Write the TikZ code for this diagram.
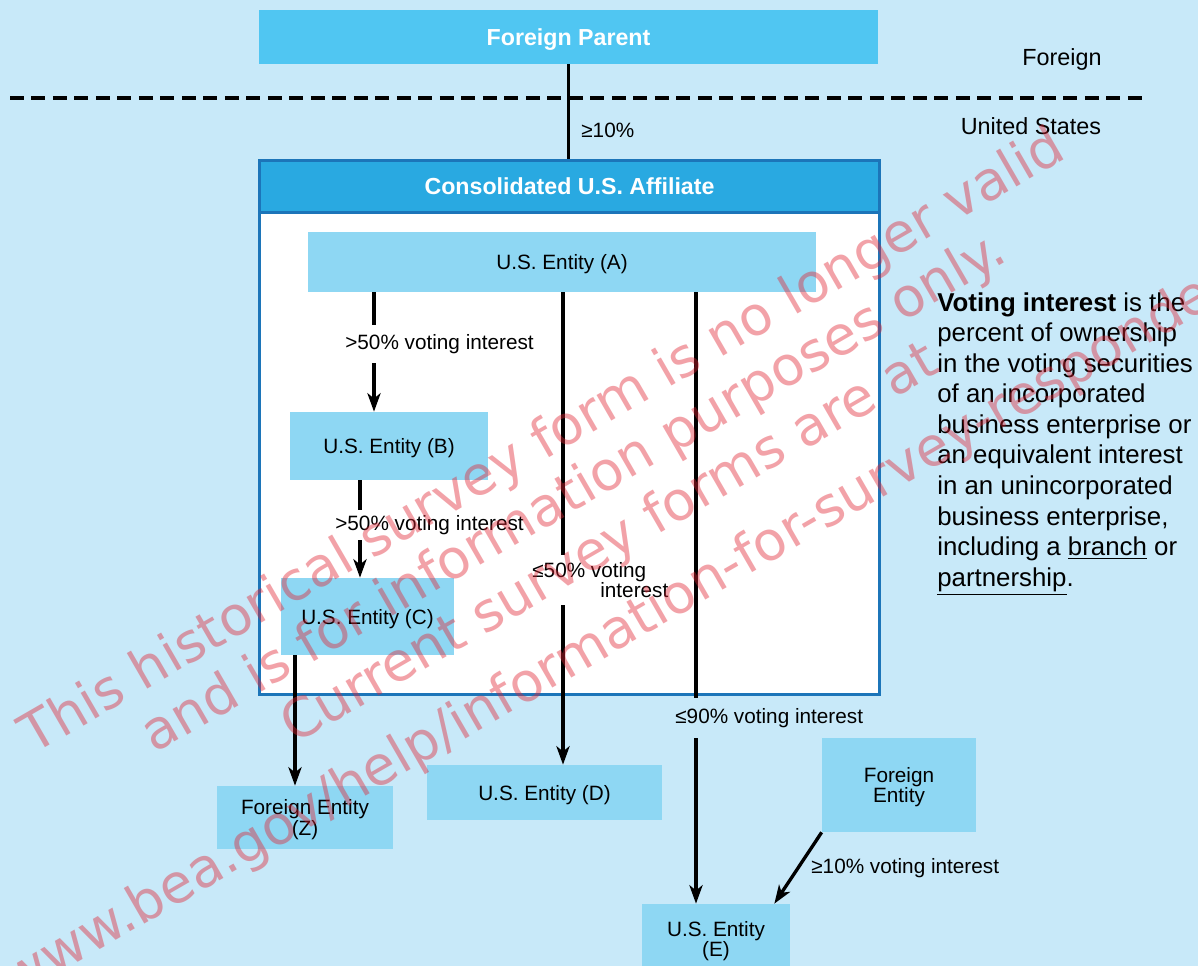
\documentclass[tikz,border=0pt]{standalone}
\usepackage{fontspec}
\setmainfont{Liberation Sans}
\newfontfamily\wmfont{DejaVu Sans}
\usetikzlibrary{arrows.meta}
\usepackage{xcolor}

\definecolor{bgblue}{RGB}{200,233,249}
\definecolor{parentblue}{RGB}{80,198,242}
\definecolor{headblue}{RGB}{41,169,225}
\definecolor{entblue}{RGB}{142,215,243}
\definecolor{frameblue}{RGB}{28,117,185}
\definecolor{wmred}{RGB}{225,35,50}

\tikzset{
 entity/.style={fill=entblue, align=center, inner sep=0pt, text depth=0pt, font=\fontsize{11.8}{11.5}\selectfont},
 heading/.style={text=white, inner sep=0pt, text depth=0pt, font=\bfseries\fontsize{13.2}{15}\selectfont},
 lbl/.style={inner sep=0pt, align=left, font=\fontsize{11.8}{11.5}\selectfont},
 conn/.style={black, line width=1.9pt, -{Stealth[length=10.5pt,width=7.5pt,inset=3pt]}},
 wm/.style={text=wmred, opacity=0.42, rotate=30, anchor=base, font=\wmfont\fontsize{30.7}{36}\selectfont},
}

\begin{document}
\begin{tikzpicture}[x=0.02cm, y=-0.02cm]
\fill[bgblue] (0,0) rectangle (1198,966);
\useasboundingbox (0,0) rectangle (1198,966);

\node[heading, fill=parentblue, minimum width=12.38cm, minimum height=1.08cm] (parent) at (568.5,37) {Foreign Parent};
\draw[black, line width=2.7pt, dash pattern=on 0.28cm off 0.15cm] (10,98) -- (1145,98);
\node[font=\fontsize{13.3}{15}\selectfont] (frgn) at (1062,59) {Foreign};
\node[font=\fontsize{13.3}{15}\selectfont] (usa) at (1031,126) {United States};

\node[draw=frameblue, line width=1.7pt, fill=white, minimum width=12.42cm, minimum height=10.7cm, inner sep=0pt] (affil) at (569.5,427.5) {};
\node[heading, fill=headblue, draw=frameblue, line width=1.7pt, minimum width=12.42cm, minimum height=1.04cm, anchor=north] (head) at (affil.north) {Consolidated U.S. Affiliate};
\draw[black, line width=1.9pt] (parent.south) -- (parent.south |- head.north);
\node[lbl, anchor=west] (p10) at (581,130) {≥10\%};

\node[entity, minimum width=10.16cm, minimum height=1.2cm] (entA) at (562,262) {U.S. Entity (A)};
\node[entity, minimum width=3.98cm, minimum height=1.36cm] (entB) at (389,446) {U.S. Entity (B)};
\node[entity, minimum width=3.46cm, minimum height=1.54cm] (entC) at (367.5,616.5) {U.S. Entity (C)};
\node[entity, minimum width=3.52cm, minimum height=1.26cm] (entZ) at (305,817.5) {Foreign Entity\\(Z)};
\node[entity, minimum width=4.7cm, minimum height=1.1cm] (entD) at (544.5,792.5) {U.S. Entity (D)};
\node[entity, minimum width=2.96cm, minimum height=1.4cm] (entE) at (716,939) {U.S. Entity\\(E)};
\node[entity, minimum width=3.08cm, minimum height=1.88cm] (entF) at (899,785) {Foreign\\Entity};

\draw[conn] (entA.south -| 374,0) -- (entB.north -| 374,0);
\draw[conn] (entB.south -| 360,0) -- (entC.north -| 360,0);
\draw[conn] (entC.south -| 295,0) -- (entZ.north -| 295,0);
\draw[conn] (entA.south -| 563,0) -- (entD.north -| 563,0);
\draw[conn] (entA.south -| 696,0) -- (entE.north -| 696,0);
\draw[conn] (entF.south west) -- ([xshift=-0.32cm]entE.north east);

\node[lbl, fill=white, anchor=west, minimum height=0.76cm] (l50a) at (345,344) {>50\% voting interest};
\node[lbl, fill=white, anchor=west, minimum height=0.6cm] (l50b) at (335,525) {>50\% voting interest};
\node[lbl, fill=white, anchor=west, minimum height=1.0cm] (l50c) at (532,580) {≤50\% voting\\\hspace*{1.36cm}interest};
\node[lbl, fill=bgblue, anchor=west, minimum height=0.8cm] (l90) at (675,718) {≤90\% voting interest};
\node[lbl, anchor=west] (l10) at (811,868) {≥10\% voting interest};

\node[anchor=north west, align=left, inner sep=0pt, font=\fontsize{14.7}{17.4}\selectfont] (note) at (937,292)
 {\textbf{Voting interest} is the\\percent of ownership\\in the voting securities\\of an incorporated\\business enterprise or\\an equivalent interest\\in an unincorporated\\business enterprise,\\including a \underline{branch} or\\\underline{partnership}.};

\foreach \cx/\cy/\txt in {551/456/{This historical survey form is no longer valid},
 582/507/{and is for information purposes only.},
 618/558/{Current survey forms are at},
 652/631/{www.bea.gov/help/information-for-survey-respondents}}
 \node[wm] at (\cx,\cy) {\txt};
\end{tikzpicture}
\end{document}
